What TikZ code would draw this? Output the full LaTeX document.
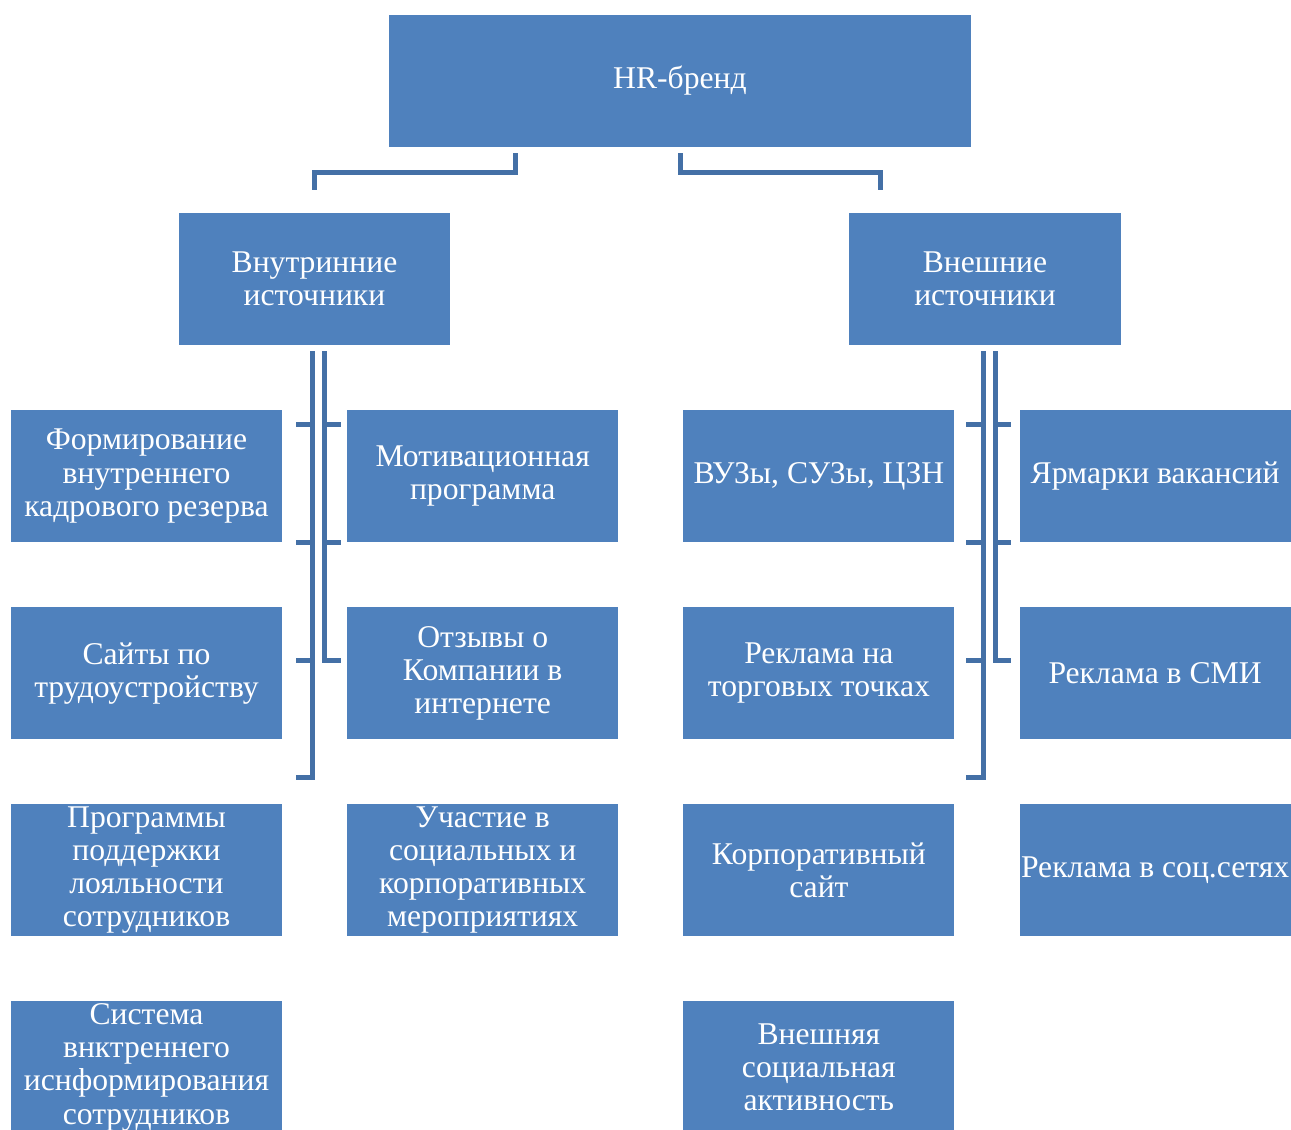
\documentclass[tikz,border=0pt]{standalone}
\usepackage{fontspec}
\setmainfont{Liberation Serif}
\usetikzlibrary{positioning,calc}
\definecolor{boxblue}{HTML}{4F81BD}
\definecolor{linkblue}{HTML}{4470A6}

\begin{document}
\begin{tikzpicture}[x=0.01cm, y=-0.01cm,
  box/.style={rectangle, fill=boxblue, text=white, inner sep=0pt, outer sep=0pt,
              minimum width=2.71cm, minimum height=1.32cm,
              font=\fontsize{9}{9.4}\selectfont, align=center},
  link/.style={draw=linkblue, line width=0.05cm},
  node distance=0.65cm and 0.65cm
]
  \useasboundingbox (0,0) rectangle (1291,1129);

  % top levels
  \node[box, minimum width=5.82cm] (hr) at (680,81) {HR-бренд};
  \node[box] (int) at (314.5,279) {Внутринние\\источники};
  \node[box] (ext) at (985,279) {Внешние\\источники};

  % inner sources
  \node[box] (rez) at (146.5,476) {Формирование\\внутреннего\\кадрового резерва};
  \node[box, right=of rez] (motiv) {Мотивационная\\программа};
  \node[box, below=of rez] (sites) {Сайты по\\трудоустройству};
  \node[box, right=of sites] (otz) {Отзывы о\\Компании в\\интернете};
  \node[box, below=of sites] (loyal) {Программы\\поддержки\\лояльности\\сотрудников};
  \node[box, right=of loyal] (event) {Участие в\\социальных и\\корпоративных\\мероприятиях};
  \node[box, below=of loyal] (inform) {Система\\внктреннего\\иснформирования\\сотрудников};

  % outer sources
  \node[box, right=of motiv] (vuz) {ВУЗы, СУЗы, ЦЗН};
  \node[box, right=of vuz] (fair) {Ярмарки вакансий};
  \node[box, below=of vuz] (shop) {Реклама на\\торговых точках};
  \node[box, right=of shop] (smi) {Реклама в СМИ};
  \node[box, below=of shop] (site) {Корпоративный\\сайт};
  \node[box, right=of site] (soc) {Реклама в соц.сетях};
  \node[box, below=of site] (activ) {Внешняя\\социальная\\активность};

  % connectors
  \draw[link] ([xshift=-1.64cm,yshift=-0.06cm]hr.south) -- ++(0,19)
    -| ([yshift=0.23cm]int.north);
  \draw[link] ([yshift=-0.06cm]hr.south) -- ++(0,19)
    -| ([xshift=-1.04cm,yshift=0.23cm]ext.north);

  \foreach \p in {int, ext} {
    \draw[link] ($(\p.south)+(-2,6)$) -- ++(0,426) -- ++(-17,0);
    \draw[link] ($(\p.south)+(10,6)$) -- ++(0,309) -- ++(16,0);
    \foreach \y in {79,197,315}
      \draw[link] ($(\p.south)+(-2,\y)$) -- ++(-17,0);
    \foreach \y in {79,197}
      \draw[link] ($(\p.south)+(10,\y)$) -- ++(16,0);
  }
\end{tikzpicture}
\end{document}
